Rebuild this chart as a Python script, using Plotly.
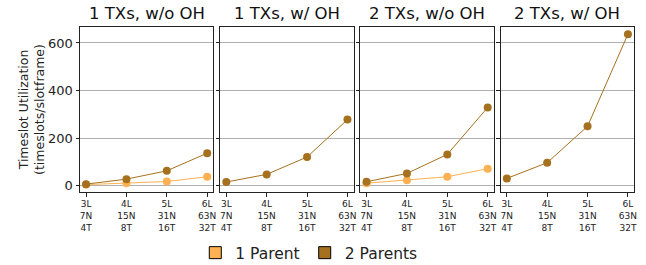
import plotly.graph_objects as go
from plotly.subplots import make_subplots

categories = ["3L<br>7N<br>4T", "4L<br>15N<br>8T", "5L<br>31N<br>16T", "6L<br>63N<br>32T"]
panel_titles = ["1 TXs, w/o OH", "1 TXs, w/ OH", "2 TXs, w/o OH", "2 TXs, w/ OH"]

one_parent = [
    [5, 11, 18, 38],
    None,
    [11, 23, 38, 72],
    None,
]
two_parents = [
    [7, 28, 63, 137],
    [16, 48, 121, 278],
    [17, 52, 132, 329],
    [31, 97, 250, 637],
]

series_names = ["1 Parent", "2 Parents"]
c1 = "#FDB152"
c2 = "#A6711F"

fig = make_subplots(rows=1, cols=4, shared_yaxes=True, horizontal_spacing=0.0126)

x_idx = list(range(len(categories)))
for i in range(4):
    col = i + 1
    if one_parent[i] is not None:
        fig.add_trace(go.Scatter(x=x_idx, y=one_parent[i], mode="lines+markers",
                                 line=dict(color=c1, width=1), marker=dict(color=c1, size=8),
                                 showlegend=False), row=1, col=col)
    fig.add_trace(go.Scatter(x=x_idx, y=two_parents[i], mode="lines+markers",
                             line=dict(color=c2, width=1), marker=dict(color=c2, size=8),
                             showlegend=False), row=1, col=col)

# legend entries (square patches)
for name, c in zip(series_names, [c1, c2]):
    fig.add_trace(go.Bar(x=[None], y=[None], name=name, marker=dict(color=c, line=dict(color="black", width=1)),
                         showlegend=True), row=1, col=1)

for i in range(4):
    col = i + 1
    fig.update_xaxes(range=[-0.15, 3.15], tickmode="array", tickvals=x_idx, ticktext=categories,
                     showgrid=False, zeroline=False, showline=True, mirror=True, linecolor="#222",
                     linewidth=1, ticks="outside", ticklen=3.5, tickcolor="#222", automargin=False,
                     tickfont=dict(size=9, color="#222", family="DejaVu Sans"), row=1, col=col)
    fig.update_yaxes(range=[-26, 667], tickvals=[0, 200, 400, 600], showgrid=True, gridcolor="#b0b0b0",
                     gridwidth=1, zeroline=False, showline=True, mirror=True, linecolor="#222",
                     linewidth=1, ticks="outside", ticklen=3.5, tickcolor="#222", automargin=False,
                     tickfont=dict(size=13, color="#222", family="DejaVu Sans"), row=1, col=col)
    xref = "x domain" if i == 0 else f"x{col} domain"
    yref = "y domain" if i == 0 else f"y{col} domain"
    fig.add_annotation(text=panel_titles[i], x=0.5, y=1.0, xref=xref, yref=yref, yshift=2,
                       xanchor="center", yanchor="bottom", showarrow=False,
                       font=dict(size=16.5, color="#111", family="DejaVu Sans"))

fig.update_yaxes(title=dict(text="Timeslot Utilization<br>(timeslots/slotframe)",
                            font=dict(size=12.5, color="#222", family="DejaVu Sans"), standoff=0),
                 row=1, col=1)

fig.update_layout(
    width=646, height=265,
    margin=dict(l=80, r=12, t=27, b=73, autoexpand=False),
    plot_bgcolor="white", paper_bgcolor="white",
    font=dict(family="DejaVu Sans", color="#222"),
    legend=dict(orientation="h", xref="container", yref="container", x=0.478, xanchor="center",
                y=0.045, yanchor="middle",
                font=dict(size=15.5, color="#222"), itemwidth=30, traceorder="normal"),
)

fig.write_html("out.html", config={"displayModeBar": False},
               post_script="document.body.style.margin='0';document.body.style.overflow='hidden';")
